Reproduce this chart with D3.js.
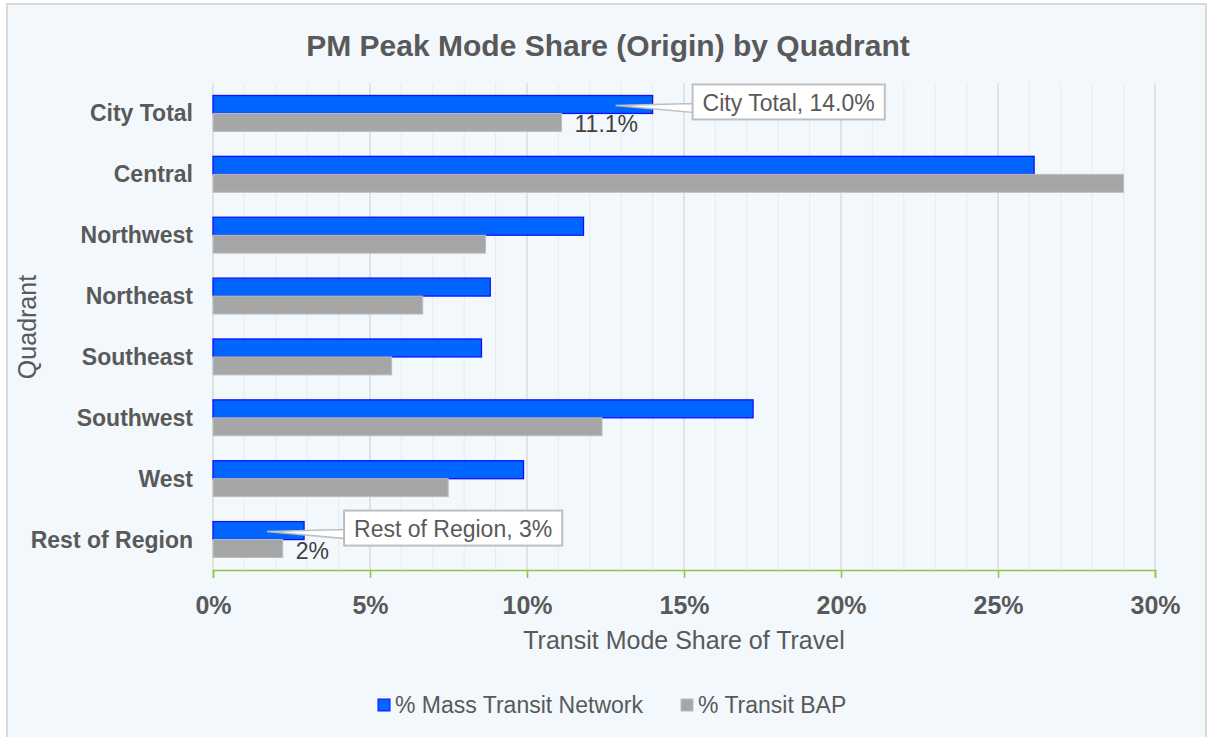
<!DOCTYPE html>
<html>
<head>
<meta charset="utf-8">
<script src="https://cdn.jsdelivr.net/npm/d3@7"></script>
<style>
  body { margin: 0; background: #ffffff; font-family: "Liberation Sans", Arial, sans-serif; }
</style>
</head>
<body>
<div id="container"></div>
<script>
// chart data
let categories = ["City Total", "Central", "Northwest", "Northeast", "Southeast", "Southwest", "West", "Rest of Region"];
let massTransit = [0.140, 0.2615, 0.118, 0.0883, 0.0855, 0.172, 0.0989, 0.029];
let transitBAP = [0.111, 0.290, 0.0868, 0.0668, 0.0569, 0.1239, 0.0749, 0.0222];
let seriesNames = ["% Mass Transit Network", "% Transit BAP"];
let xTicks = [0, 0.05, 0.10, 0.15, 0.20, 0.25, 0.30];

// labels shown on the picture (index into categories)
let barLabels = [{ i: 0, text: "11.1%" }, { i: 7, text: "2%" }];
let callouts = [{ i: 0, text: "City Total, 14.0%" }, { i: 7, text: "Rest of Region, 3%" }];

let width = 1210;
let height = 737;
let textColor = "#595959";
let blue = "#0066ff";
let grey = "#a6a6a6";

let svg = d3.select("#container").append("svg")
  .attr("width", width).attr("height", height);

// background + frame
svg.append("rect").attr("x", 7).attr("y", 4).attr("width", 1199).attr("height", 740)
  .attr("fill", "#f3f8fc").attr("stroke", "#d9d9d9").attr("stroke-width", 2);

let x = d3.scaleLinear().domain([0, 0.30]).range([213, 1155]);
let y = d3.scaleBand().domain(categories).range([83, 570]).paddingInner(0.41).paddingOuter(0.205);
let ySub = d3.scaleBand().domain(seriesNames).range([0, y.bandwidth()]);

// minor gridlines (1%)
let minor = d3.range(0, 0.3001, 0.01);
svg.append("g").selectAll("line").data(minor).join("line")
  .attr("x1", d => x(d)).attr("x2", d => x(d))
  .attr("y1", 83).attr("y2", 570)
  .attr("stroke", "#e8ebee").attr("stroke-width", 1);

// major gridlines
svg.append("g").selectAll("line").data(xTicks).join("line")
  .attr("x1", d => x(d)).attr("x2", d => x(d))
  .attr("y1", 83).attr("y2", 570)
  .attr("stroke", "#d6d9dc").attr("stroke-width", 1.2);

// bars
let rows = categories.map((c, i) => ({ cat: c, vals: [massTransit[i], transitBAP[i]] }));
let g = svg.append("g").selectAll("g").data(rows).join("g")
  .attr("transform", d => `translate(0,${y(d.cat)})`);

g.append("rect")
  .attr("x", x(0)).attr("y", ySub(seriesNames[0]))
  .attr("width", d => x(d.vals[0]) - x(0)).attr("height", ySub.bandwidth())
  .attr("fill", blue).attr("stroke", "#1010ff").attr("stroke-width", 1.3);

g.append("rect")
  .attr("x", x(0)).attr("y", ySub(seriesNames[1]))
  .attr("width", d => x(d.vals[1]) - x(0)).attr("height", ySub.bandwidth())
  .attr("fill", grey).attr("stroke", "#bdbdbd").attr("stroke-width", 1);

// x axis
let xAxis = d3.axisBottom(x).tickValues(xTicks).tickFormat(d3.format(".0%")).tickSize(8);
let ax = svg.append("g").attr("transform", "translate(0,570)").call(xAxis);
ax.select(".domain").attr("stroke", "#8dc63f").attr("stroke-width", 1.5);
ax.selectAll(".tick line").attr("stroke", "#8dc63f").attr("stroke-width", 1.5);
ax.selectAll(".tick text")
  .attr("y", 35).attr("dy", "0.35em")
  .attr("fill", textColor).attr("font-size", 25).attr("font-weight", "bold")
  .attr("font-family", "Liberation Sans, Arial, sans-serif");

// y axis labels
svg.append("g").selectAll("text").data(categories).join("text")
  .attr("x", 193).attr("y", d => y(d) + y.bandwidth() / 2)
  .attr("dy", "0.35em")
  .attr("text-anchor", "end")
  .attr("fill", textColor).attr("font-size", 23).attr("font-weight", "bold")
  .text(d => d);

// data labels on grey bars
svg.append("g").selectAll("text").data(barLabels).join("text")
  .attr("x", d => x(transitBAP[d.i]) + 13)
  .attr("y", d => y(categories[d.i]) + ySub(seriesNames[1]) + ySub.bandwidth() / 2 + 2)
  .attr("dy", "0.35em")
  .attr("fill", "#404040").attr("font-size", 23)
  .text(d => d.text);

// callouts on blue bars
let co = svg.append("g").selectAll("g").data(callouts).join("g");
co.each(function (d) {
  let el = d3.select(this);
  let ax0 = x(massTransit[d.i]) - 37;
  let ay0 = y(categories[d.i]) + ySub(seriesNames[0]) + ySub.bandwidth() / 2 + 1;
  let bx = ax0 + 77;
  let by = ay0 - 21;
  let txt = el.append("text")
    .attr("x", bx + 10).attr("y", by + 18).attr("dy", "0.35em")
    .attr("fill", textColor).attr("font-size", 23).text(d.text);
  let tw = txt.node().getComputedTextLength();
  el.insert("polygon", "text")
    .attr("points", `${ax0},${ay0} ${bx + 1},${by + 19} ${bx + 1},${by + 28}`)
    .attr("fill", "#ffffff").attr("stroke", "#bfbfbf").attr("stroke-width", 1.5);
  el.insert("rect", "text")
    .attr("x", bx).attr("y", by).attr("width", tw + 20).attr("height", 35)
    .attr("fill", "#ffffff").attr("stroke", "#bfbfbf").attr("stroke-width", 2);
});

// title
svg.append("text").attr("x", 608).attr("y", 45).attr("dy", "0.35em")
  .attr("text-anchor", "middle")
  .attr("fill", textColor).attr("font-size", 30).attr("font-weight", "bold")
  .text("PM Peak Mode Share (Origin) by Quadrant");

// axis titles
svg.append("text").attr("x", (x(0) + x(0.30)) / 2).attr("y", 640).attr("dy", "0.35em")
  .attr("text-anchor", "middle").attr("fill", textColor).attr("font-size", 25)
  .text("Transit Mode Share of Travel");

svg.append("text")
  .attr("transform", "translate(27,327) rotate(-90)")
  .attr("dy", "0.35em")
  .attr("text-anchor", "middle").attr("fill", textColor).attr("font-size", 25)
  .text("Quadrant");

// legend
let legendX = [378, 681];
let lg = svg.append("g").selectAll("g").data(seriesNames).join("g")
  .attr("transform", (d, i) => `translate(${legendX[i]},705)`);
lg.append("rect").attr("x", 0).attr("y", -6).attr("width", 12).attr("height", 12)
  .attr("fill", (d, i) => i == 0 ? blue : grey)
  .attr("stroke", (d, i) => i == 0 ? "#1010ff" : "#bdbdbd").attr("stroke-width", 1);
lg.append("text").attr("x", 17).attr("y", 0).attr("dy", "0.35em")
  .attr("fill", textColor).attr("font-size", 23)
  .text(d => d);
</script>
</body>
</html>
